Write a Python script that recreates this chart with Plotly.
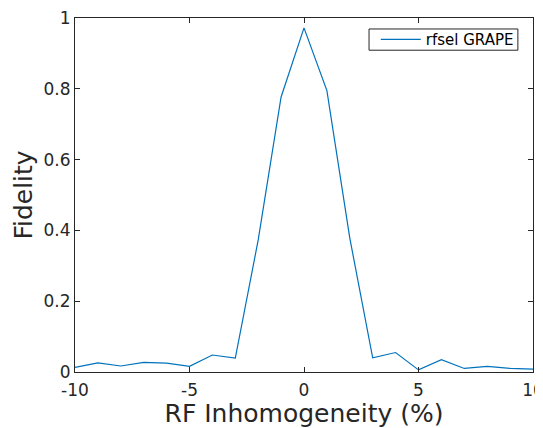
import plotly.graph_objects as go

rf_inhomogeneity = list(range(-10, 11))
fidelity = [0.013, 0.026, 0.017, 0.027, 0.025, 0.016, 0.048, 0.039, 0.373, 0.777,
            0.972, 0.795, 0.378, 0.040, 0.055, 0.006, 0.035, 0.010, 0.016, 0.010, 0.008]

x_ticks = [-10, -5, 0, 5, 10]
x_tick_labels = ["-10", "-5", "0", "5", "10"]
y_ticks = [0, 0.2, 0.4, 0.6, 0.8, 1]
y_tick_labels = ["0", "0.2", "0.4", "0.6", "0.8", "1"]

fig = go.Figure()
fig.add_trace(go.Scatter(x=rf_inhomogeneity, y=fidelity, mode="lines",
                         name="rfsel GRAPE", line=dict(color="#0072BD", width=1.2)))

axis_common = dict(showline=True, linecolor="#262626", linewidth=1, mirror="ticks",
                   ticks="inside", ticklen=5, tickcolor="#262626", showgrid=False,
                   zeroline=False, automargin=False, ticklabeloverflow="allow",
                   tickfont=dict(family="DejaVu Sans", size=17, color="#262626"))

# legend box drawn as a compact frame behind the (frameless) legend
fig.add_shape(type="rect", xref="paper", yref="paper",
              x0=0.642, x1=0.967, y0=0.909, y1=0.969,
              line=dict(color="#262626", width=1), fillcolor="white", layer="above")

# page body has an 8px default margin, so the figure is sized to fit the window
fig.update_layout(
    width=535, height=420,
    margin=dict(l=67, r=10, t=10, b=56),
    paper_bgcolor="white", plot_bgcolor="white",
    font=dict(family="DejaVu Sans", color="#262626"),
    xaxis=dict(range=[-10, 10], tickvals=x_ticks, ticktext=x_tick_labels,
               ticklabelstandoff=3,
               title=dict(text="RF Inhomogeneity (%)", font=dict(size=25), standoff=1),
               **axis_common),
    yaxis=dict(range=[0, 1], tickvals=y_ticks, ticktext=y_tick_labels,
               title=dict(text="Fidelity", font=dict(size=25), standoff=3),
               **axis_common),
    showlegend=True,
    legend=dict(x=0.969, y=0.939, xanchor="right", yanchor="middle",
                borderwidth=0, bgcolor="rgba(0,0,0,0)",
                font=dict(size=15, color="#000000"), tracegroupgap=0,
                itemwidth=40),
)

fig.write_html("out.html")
